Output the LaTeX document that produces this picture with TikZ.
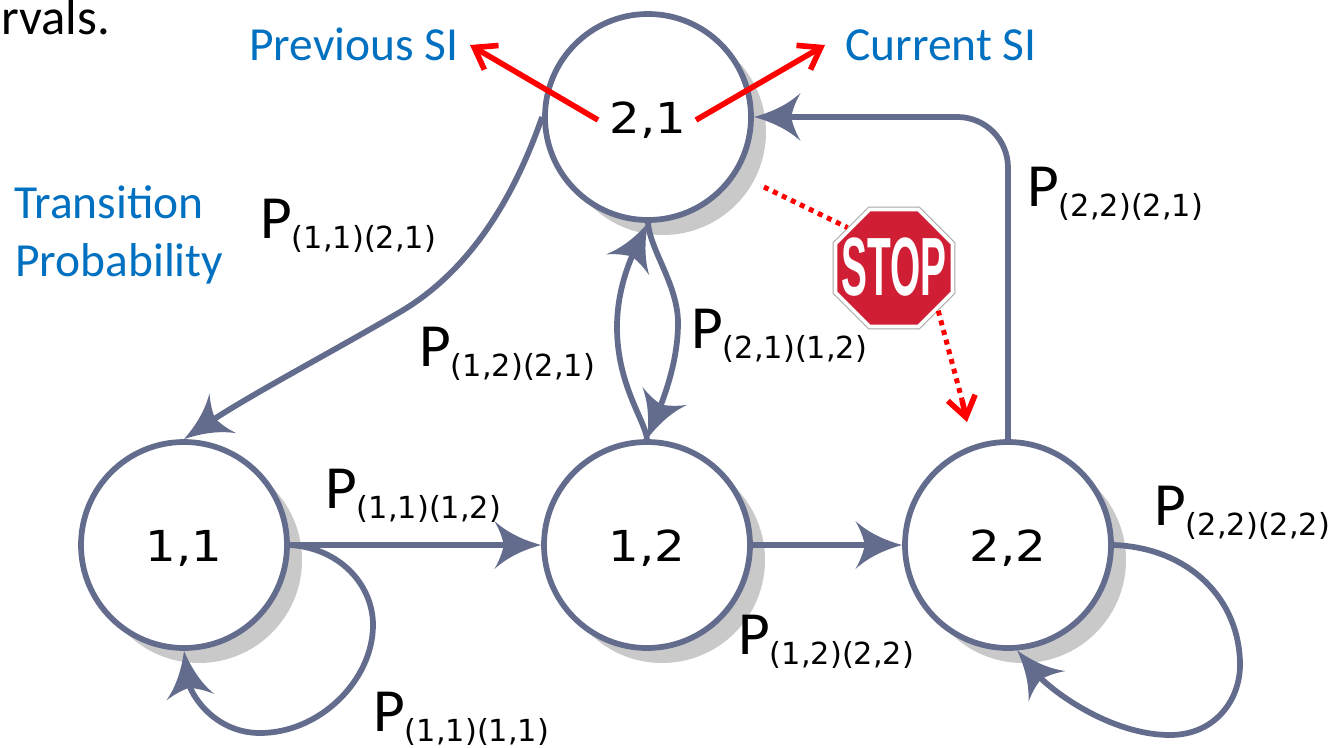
\documentclass[tikz,border=0pt]{standalone}
\usepackage{fontspec}
\setmainfont{Carlito}
\newfontfamily\numfont{DejaVu Sans}
\newfontfamily\stopfont{Liberation Sans}
\usetikzlibrary{arrows.meta,shadows,shapes.geometric}
\definecolor{edgeblue}{HTML}{636C8C}
\definecolor{labelblue}{HTML}{0070C0}
\definecolor{shadowgray}{HTML}{C9C9C9}
\definecolor{stopred}{HTML}{D01F35}
\pgfdeclarearrow{
  name=ConcaveTip,
  setup code={
    \pgfarrowssettipend{0pt}
    \pgfarrowssetlineend{-22pt}
    \pgfarrowssetbackend{-35pt}
    \pgfarrowssetvisualbackend{-25pt}
    \pgfarrowsupperhullpoint{-35pt}{18pt}
    \pgfarrowshullpoint{0pt}{0pt}
  },
  drawing code={
    \pgfsetlinewidth{0pt}
    \pgfpathmoveto{\pgfqpoint{0pt}{0pt}}
    \pgfpathcurveto{\pgfqpoint{-11pt}{3pt}}{\pgfqpoint{-24pt}{8pt}}{\pgfqpoint{-35pt}{18pt}}
    \pgfpathcurveto{\pgfqpoint{-31pt}{11pt}}{\pgfqpoint{-29pt}{5pt}}{\pgfqpoint{-28pt}{0pt}}
    \pgfpathcurveto{\pgfqpoint{-29pt}{-5pt}}{\pgfqpoint{-31pt}{-11pt}}{\pgfqpoint{-35pt}{-18pt}}
    \pgfpathcurveto{\pgfqpoint{-24pt}{-8pt}}{\pgfqpoint{-11pt}{-3pt}}{\pgfqpoint{0pt}{0pt}}
    \pgfpathclose
    \pgfusepathqfill
  }
}
\newcommand{\plabel}[1]{{\fontsize{46pt}{46pt}\selectfont P}\raisebox{-7.5pt}{\numfont\fontsize{22.8pt}{22.8pt}\selectfont #1}}
\tikzset{
  statenode/.style={circle,draw=edgeblue,fill=white,line width=4.3pt,minimum size=154.5pt,inner sep=0pt,
    drop shadow={shadow xshift=11.25pt,shadow yshift=-11.25pt,fill=shadowgray,opacity=1}},
  statetext/.style={font=\numfont\fontsize{32pt}{32pt}\selectfont,anchor=base,inner sep=0pt},
  edge/.style={draw=edgeblue,line width=4.3pt,-{ConcaveTip}},
  redarrow/.style={draw=red,line width=4.2pt,-{Straight Barb[length=15pt,width=21pt,line width=4.2pt]}},
  reddot/.style={draw=red,line width=3.75pt,dash pattern=on 3.75pt off 3.75pt},
  plab/.style={anchor=base west,inner sep=0pt,text=black},
  bluetext/.style={anchor=base west,inner sep=0pt,text=labelblue,font=\fontsize{35.6pt}{35.6pt}\selectfont},
}
\begin{document}
\begin{tikzpicture}[x=0.75pt,y=-0.75pt]
\useasboundingbox (0,0) rectangle (1340,747);
\fill[white] (0,0) rectangle (1340,747);

\node[anchor=base west,inner sep=0pt,font=\fontsize{38pt}{38pt}\selectfont] (frag) at (1,34) {rvals.};
\node[bluetext] (prev) at (249,60) {Previous SI};
\node[bluetext] (curr) at (845,60) {Current SI};
\node[bluetext] (tr) at (14,218) {Transition};
\node[bluetext] (pr) at (15,276) {Probability};

\node[statenode] (n21) at (648,117) {};
\node[statenode] (n11) at (184,545) {};
\node[statenode] (n12) at (647,545) {};
\node[statenode] (n22) at (1008,545) {};
\node[statetext] (t21) at (648,133) {\scalebox{1.13}[1]{2,1}};
\node[statetext] (t11) at (184,561) {\scalebox{1.13}[1]{1,1}};
\node[statetext] (t12) at (647,561) {\scalebox{1.13}[1]{1,2}};
\node[statetext] (t22) at (1008,561) {\scalebox{1.13}[1]{2,2}};

% transitions
\draw[edge] (n11.east) -- (n12.west);
\draw[edge] (n12.east) -- (n22.west);
\draw[edge,rounded corners=38pt] (n22.north) |- (n21.east);
\draw[edge] (n21.west) .. controls (520,180) and (480,265) .. (400,312)
   .. controls (330,353) and (250,395) .. (n11.north);
\draw[edge] (n21.south) .. controls (650,250) and (678,285) .. (678,323)
   .. controls (678,360) and (665,395) .. (n12.north);
\draw[edge] (n12.north) .. controls (645,420) and (617,385) .. (617,327)
   .. controls (617,290) and (630,260) .. (n21.south);
\draw[edge] (n11.east) .. controls (340,548) and (373,585) .. (373,625)
   .. controls (373,680) and (320,733) .. (260,733)
   .. controls (215,733) and (190,695) .. (n11.south);
\draw[edge] (n22.east) .. controls (1190,548) and (1240,600) .. (1240,665)
   .. controls (1240,700) and (1215,735) .. (1170,735)
   .. controls (1110,735) and (1050,690) .. (n22.275);

% red arrows
\coordinate (ls) at (598,120);
\coordinate (le) at (470,45);
\coordinate (rs) at (696,120);
\coordinate (re) at (825,45);
\draw[redarrow] (ls) -- (le);
\draw[redarrow] (rs) -- (re);

% stop sign
\node[regular polygon,regular polygon sides=8,draw=gray!70,line width=0.75pt,fill=white,minimum size=99pt,inner sep=0pt] (stop) at (894,268) {};
\node[regular polygon,regular polygon sides=8,fill=stopred,minimum size=92pt,inner sep=0pt] (stopin) at (894,268) {};
\node[text=white,inner sep=0pt,font=\stopfont\bfseries\fontsize{62pt}{62pt}\selectfont] (stoptext) at (894,267) {\scalebox{0.47}[1]{STOP}};
\coordinate (da) at (764,187);
\coordinate (db) at (967,422);
\coordinate (dc) at (962,400);
\draw[reddot] (da) -- (stop.139);
\draw[reddot] (stop.-44) -- (dc);
\draw[redarrow] (dc) -- (db);

% probabilities
\node[plab] (p1) at (260,238) {\plabel{(1,1)(2,1)}};
\node[plab] (p2) at (419,366) {\plabel{(1,2)(2,1)}};
\node[plab] (p3) at (691,348) {\plabel{(2,1)(1,2)}};
\node[plab] (p4) at (1027,206) {\plabel{(2,2)(2,1)}};
\node[plab] (p5) at (325,508) {\plabel{(1,1)(1,2)}};
\node[plab] (p6) at (738,654) {\plabel{(1,2)(2,2)}};
\node[plab] (p7) at (1154,525) {\plabel{(2,2)(2,2)}};
\node[plab] (p8) at (373,731) {\plabel{(1,1)(1,1)}};
\end{tikzpicture}
\end{document}
